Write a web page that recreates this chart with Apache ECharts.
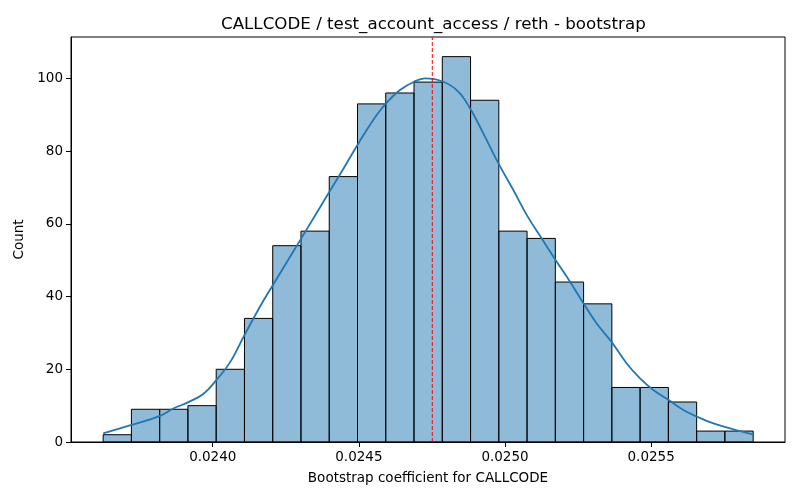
<!DOCTYPE html>
<html lang="en">
<head>
    <meta charset="UTF-8">
    <title>CALLCODE bootstrap</title>
    <style type="text/css">
        body{
            margin: 0px;
            padding: 0px;
            background: #fff;
        }
        #chart{
            width: 800px;
            height: 500px;
        }
    </style>
</head>
<body>
    <div id="chart"></div>
</body>
<script src="https://cdn.jsdelivr.net/npm/echarts@6/dist/echarts.min.js" type="text/javascript"></script>
<script type="text/javascript">
    // histogram bin edges (23 bins)
    var binEdges = [
        0.023625, 0.0237217, 0.0238184, 0.0239151, 0.0240118, 0.0241085,
        0.0242052, 0.0243019, 0.0243986, 0.0244953, 0.024592, 0.0246887,
        0.0247854, 0.0248821, 0.0249788, 0.0250755, 0.0251722, 0.0252689,
        0.0253656, 0.0254623, 0.025559, 0.0256557, 0.0257524, 0.0258491
    ];
    // count per bin
    var binCounts = [2, 9, 9, 10, 20, 34, 54, 58, 73, 93, 96, 99, 106, 94, 58, 56, 44, 38, 15, 15, 11, 3, 3];

    // kde curve
    var kdeX = [
        0.0236253, 0.0237225, 0.0238193, 0.0238648, 0.0239151, 0.0239675, 0.024012,
        0.0240589, 0.0241078, 0.0241615, 0.024206, 0.0242755, 0.0243029, 0.0243997,
        0.0244466, 0.0245003, 0.0245493, 0.0245893, 0.0246407, 0.0246886, 0.0247262,
        0.0247888, 0.0248402, 0.0248802, 0.0249257, 0.0249771, 0.0250284, 0.0250777,
        0.0251256, 0.0251735, 0.0252224, 0.025268, 0.0253138, 0.0253638, 0.0254165,
        0.025462, 0.0255075, 0.0255589, 0.0256102, 0.0256561, 0.0257129, 0.0257813,
        0.0258498
    ];
    var kdeY = [
        2.4, 4.7, 7.2, 9.2, 10.9, 13.2, 17.0,
        21.9, 29.3, 37.2, 43.2, 52.4, 56, 68.9,
        75.1, 82.4, 88.6, 92.8, 96.8, 99.1, 100,
        99.1, 96.4, 91.8, 84.9, 76.7, 69.3, 62,
        56, 50, 44.1, 38.2, 32.6, 27.6, 21.6,
        17.5, 14.3, 11.6, 8.8, 7, 5.1, 3.5,
        2.1
    ];
    // mean marker (dashed red line)
    var meanValue = 0.0247512;

    var xTicks = [0.0240, 0.0245, 0.0250, 0.0255];
    var yTicks = [0, 20, 40, 60, 80, 100];
    var yMax = 111.4;

    var histData = [];
    for (var i = 0; i < binCounts.length; i++) {
        histData.push([binEdges[i], binEdges[i + 1], binCounts[i]]);
    }
    var kdeData = [];
    for (var j = 0; j < kdeX.length; j++) {
        kdeData.push([kdeX[j], kdeY[j]]);
    }

    var font = 'DejaVu Sans';
    var myChart = echarts.init(document.getElementById('chart'));
    myChart.setOption({
        animation: false,
        backgroundColor: '#fff',
        title: {
            text: 'CALLCODE / test_account_access / reth - bootstrap',
            left: 216,
            top: 11,
            textStyle: {fontFamily: font, fontSize: 16.7, fontWeight: 'normal', color: '#000'}
        },
        grid: {
            left: 71, right: 15, top: 37, bottom: 58,
            show: true, borderColor: '#000', borderWidth: 1, backgroundColor: 'transparent'
        },
        xAxis: {
            type: 'value',
            min: 0.023515,
            max: 0.025958,
            name: 'Bootstrap coefficient for CALLCODE',
            nameLocation: 'middle',
            nameGap: 29,
            nameTextStyle: {fontFamily: font, fontSize: 13.5, color: '#000'},
            axisLine: {show: true, onZero: false, lineStyle: {color: '#000', width: 1}},
            axisTick: {show: true, length: 5, lineStyle: {color: '#000'}, customValues: xTicks},
            axisLabel: {
                fontFamily: font, fontSize: 13.5, color: '#000', margin: 8,
                customValues: xTicks,
                formatter: function (v) { return v.toFixed(4); }
            },
            splitLine: {show: false}
        },
        yAxis: {
            type: 'value',
            min: 0,
            max: yMax,
            name: 'Count',
            nameLocation: 'middle',
            nameGap: 40,
            nameTextStyle: {fontFamily: font, fontSize: 13.5, color: '#000'},
            axisLine: {show: true, lineStyle: {color: '#000', width: 1}},
            axisTick: {show: true, length: 5, lineStyle: {color: '#000'}, customValues: yTicks},
            axisLabel: {fontFamily: font, fontSize: 13.5, color: '#000', margin: 8, customValues: yTicks},
            splitLine: {show: false}
        },
        series: [
            {
                type: 'custom',
                data: histData,
                encode: {x: [0, 1], y: 2},
                renderItem: function (params, api) {
                    var p0 = api.coord([api.value(0), 0]);
                    var p1 = api.coord([api.value(1), api.value(2)]);
                    return {
                        type: 'rect',
                        shape: {x: p0[0], y: p1[1], width: p1[0] - p0[0], height: p0[1] - p1[1]},
                        style: {fill: 'rgba(31,119,180,0.5)', stroke: '#000', lineWidth: 1}
                    };
                },
                z: 2
            },
            {
                type: 'line',
                data: kdeData,
                smooth: 0.4,
                showSymbol: false,
                lineStyle: {color: '#1f77b4', width: 1.8},
                z: 3
            },
            {
                type: 'line',
                data: [[meanValue, 0], [meanValue, yMax]],
                showSymbol: false,
                lineStyle: {color: '#ff0000', type: [4, 2], width: 1},
                z: 4
            }
        ]
    });
</script>
</html>
